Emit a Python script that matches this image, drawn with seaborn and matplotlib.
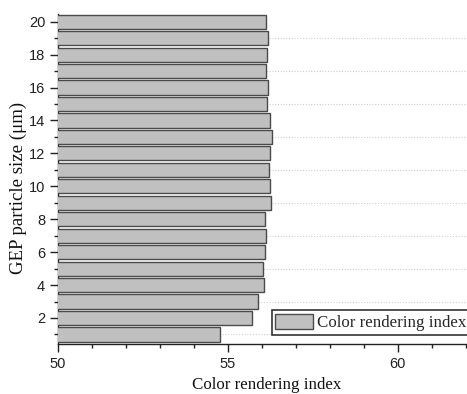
import matplotlib
matplotlib.use("Agg")
import matplotlib.pyplot as plt
import seaborn as sns
import pandas as pd
import numpy as np

# Data
particle_size = list(range(1, 21))
color_rendering_index = [54.79, 55.72, 55.88, 56.07, 56.04, 56.10, 56.13, 56.09,
                         56.28, 56.26, 56.21, 56.26, 56.31, 56.24, 56.17, 56.18,
                         56.13, 56.15, 56.18, 56.13]
series_label = "Color rendering index"
x_label = "Color rendering index"
y_label = "GEP particle size (\u03bcm)"

df = pd.DataFrame({"size": particle_size, "cri": color_rendering_index})

sns.set_style("ticks")
plt.rcParams["font.family"] = ["Liberation Sans", "DejaVu Sans"]

fig = plt.figure(figsize=(4.67, 3.94), dpi=100)
ax = fig.add_axes([57.7 / 467, 50 / 394, 418 / 467, 330 / 394])

sns.barplot(data=df, x="cri", y="size", orient="h", native_scale=True,
            width=0.86, color="#c0c0c0", edgecolor="#4a4a4a", linewidth=1.0,
            saturation=1, label=series_label, ax=ax, zorder=3)

ax.set_xlim(50, 62.3)
ax.set_ylim(0.42, 20.47)

ax.set_xticks([50, 55, 60])
ax.set_xticks(np.arange(50, 63, 1), minor=True)
ax.set_yticks(np.arange(2, 21, 2))
ax.set_yticks(np.arange(1, 21, 2), minor=True)
ax.tick_params(axis="both", which="major", direction="out", length=6, width=1,
               labelsize=10.5, color="#222222", labelcolor="#222222", pad=3)
ax.tick_params(axis="both", which="minor", direction="out", length=3, width=1,
               color="#222222")

ax.grid(False)
ax.yaxis.grid(True, which="minor", linestyle=(0, (1, 1.5)), color="#cfcfcf",
              linewidth=0.8, zorder=0)
ax.set_axisbelow(True)

for s in ["top", "right"]:
    ax.spines[s].set_visible(False)
for s in ["left", "bottom"]:
    ax.spines[s].set_linewidth(1.0)
    ax.spines[s].set_color("#222222")

ax.set_xlabel(x_label, family=["Liberation Serif", "DejaVu Serif"], fontsize=12.2,
              color="#111111", labelpad=4.5)
ax.set_ylabel(y_label, family=["Liberation Serif", "DejaVu Serif"], fontsize=13.6,
              color="#111111")
ax.yaxis.set_label_coords(-0.074, 0.473)

leg = ax.legend(loc="lower left", bbox_to_anchor=(271.7 / 467, 59 / 394),
                bbox_transform=fig.transFigure, borderaxespad=0,
                frameon=True, fancybox=False, framealpha=1, edgecolor="#333333",
                prop={"family": "Liberation Serif", "size": 12.2},
                handlelength=2.2, handleheight=1.05, handletextpad=0.25,
                borderpad=0.22)
leg.get_frame().set_linewidth(1.2)

fig.savefig("out.png", dpi=100)
